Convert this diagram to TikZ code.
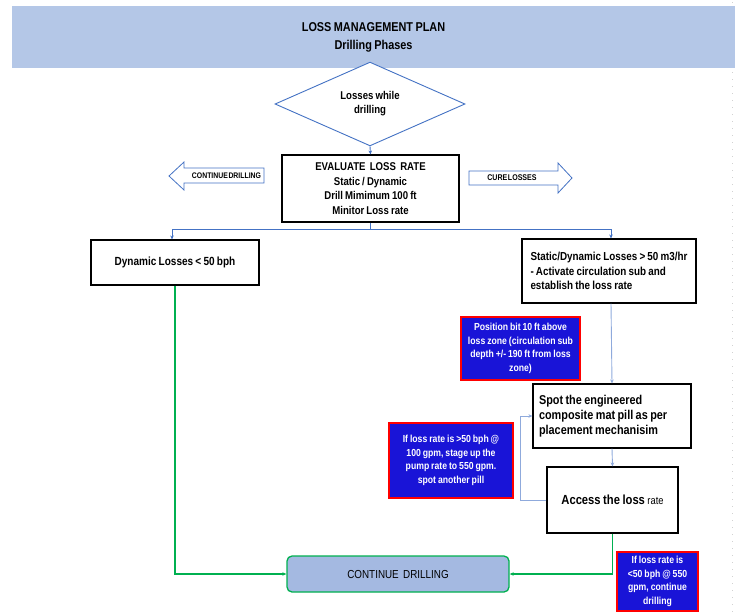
\documentclass[tikz,border=0pt]{standalone}
\usepackage{fontspec}
\setmainfont{Liberation Sans}[FakeStretch=0.85,WordSpace=0.8]
\usetikzlibrary{shapes.geometric,arrows.meta}
\definecolor{hdrfill}{HTML}{B4C7E7}
\definecolor{bline}{HTML}{4472C4}
\definecolor{lbline}{HTML}{8FAADC}
\definecolor{bbfill}{RGB}{25,20,215}
\definecolor{bbred}{RGB}{255,0,0}
\definecolor{gline}{HTML}{00B050}
\definecolor{contfill}{HTML}{A4B9E1}
\tikzset{
  plainbox/.style={draw=black, line width=1.1pt, fill=white, inner sep=2pt},
  bluebox/.style={draw=bbred, line width=1.3pt, fill=bbfill, text=white, align=center, inner sep=1pt,
    font=\fontsize{10.2}{13.7}\selectfont\bfseries},
  hollowarrow/.style={draw=bline, line width=0.8pt, fill=white},
  tip/.style={-{Stealth[length=4pt,width=3.5pt]}},
  bconn/.style={draw=bline, line width=0.9pt},
  lbconn/.style={draw=lbline, line width=0.9pt},
  gconn/.style={draw=gline, line width=1.1pt},
}
\begin{document}
\begin{tikzpicture}[x=1pt,y=-1pt]
\useasboundingbox (0,0) rectangle (735,613);
\draw[gray!35, line width=0.6pt, dash pattern=on 1pt off 6pt] (732,2) -- (732,613);
% header
\node[fill=hdrfill, minimum width=723pt, minimum height=62pt, inner sep=0pt, align=center,
  font=\fontsize{12.8}{18}\selectfont\bfseries] (hdr) at (373.5,37) {LOSS MANAGEMENT PLAN\\Drilling Phases};
% decision
\node[diamond, draw=bline, line width=0.9pt, fill=white, minimum width=190pt, minimum height=72pt,
  inner sep=0pt, align=center, font=\fontsize{11.3}{14}\selectfont\bfseries] (dia) at (370,104) {Losses while\\drilling};
% evaluate
\node[plainbox, minimum width=177pt, minimum height=67pt, align=center,
  font=\fontsize{11.3}{14.7}\selectfont\bfseries] (eval) at (370.5,188.5)
  {EVALUATE\ \ LOSS\ \ RATE\\Static / Dynamic\\Drill Mimimum 100 ft\\Minitor Loss rate};
% hollow arrows
\draw[hollowarrow] (264,168) -- (184,168) -- (184,162) -- (169,176) -- (184,190) -- (184,183) -- (264,183) -- cycle;
\node[font=\fontsize{8.1}{9}\selectfont\bfseries, inner sep=0pt] (contarrow) at (226.5,176) {CONTINUE\hspace{0.6pt}DRILLING};
\draw[hollowarrow] (469,171) -- (558,171) -- (558,163) -- (572,178) -- (558,193) -- (558,185) -- (469,185) -- cycle;
\node[font=\fontsize{8.3}{9}\selectfont\bfseries, inner sep=0pt] (curearrow) at (512,178) {CURE\hspace{0.6pt}LOSSES};
% branches
\node[plainbox, minimum width=168pt, minimum height=45pt,
  font=\fontsize{11.8}{14}\selectfont\bfseries] (dyn) at (175,262.5) {Dynamic Losses < 50 bph};
\node[plainbox, minimum width=174pt, minimum height=64pt, align=left,
  font=\fontsize{11.6}{14.6}\selectfont\bfseries] (stat) at (609,271)
  {Static/Dynamic Losses > 50 m3/hr\\- Activate circulation sub and\\establish the loss rate};
\node[bluebox, minimum width=119pt, minimum height=63pt] (pos) at (520.5,348.5)
  {Position bit 10 ft above\\loss zone (circulation sub\\depth +/- 190 ft from loss\\zone)};
\node[plainbox, minimum width=158pt, minimum height=64pt, text width=146pt, align=flush left,
  font=\fontsize{12.8}{15}\selectfont\bfseries] (spot) at (612,416)
  {Spot the engineered\\composite mat pill as per\\placement mechanisim};
\node[plainbox, minimum width=131pt, minimum height=66pt,
  font=\fontsize{13.2}{15}\selectfont\bfseries] (access) at (612.5,500)
  {Access the loss {\mdseries\fontsize{11}{13}\selectfont rate}};
\node[bluebox, minimum width=124pt, minimum height=75pt] (ifgt) at (451,460.5)
  {If loss rate is >50 bph @\\100 gpm, stage up the\\pump rate to 550 gpm.\\spot another pill};
\node[draw=gline, line width=1.3pt, fill=contfill, rounded corners=5pt, minimum width=222pt, minimum height=36pt,
  font=\fontsize{11.6}{13}\selectfont] (cont) at (398,574) {CONTINUE\ \ DRILLING};
\node[bluebox, minimum width=81pt, minimum height=59pt] (iflt) at (657.5,581.5)
  {If loss rate is\\<50 bph @ 550\\gpm, continue\\drilling};
% connectors
\coordinate (split) at (370.5,229);
\draw[bconn, tip] (dia.south) -- (eval.north);
\draw[bconn] (eval.south) -- (split);
\draw[bconn, tip] (split) -| ([xshift=-3pt]dyn.north);
\draw[bconn, tip] (split) -| ([xshift=2pt]stat.north);
\draw[lbconn, tip] ([xshift=2pt]stat.south) -- (spot.north);
\draw[lbconn, tip] (spot.south) -- (access.north);
\draw[lbconn, tip] (access.west) -- ++(-26,0) |- (spot.west);
\draw[gconn, tip] (dyn.south) |- (cont.west);
\draw[gconn, tip] (access.south) |- (cont.east);
\end{tikzpicture}
\end{document}
